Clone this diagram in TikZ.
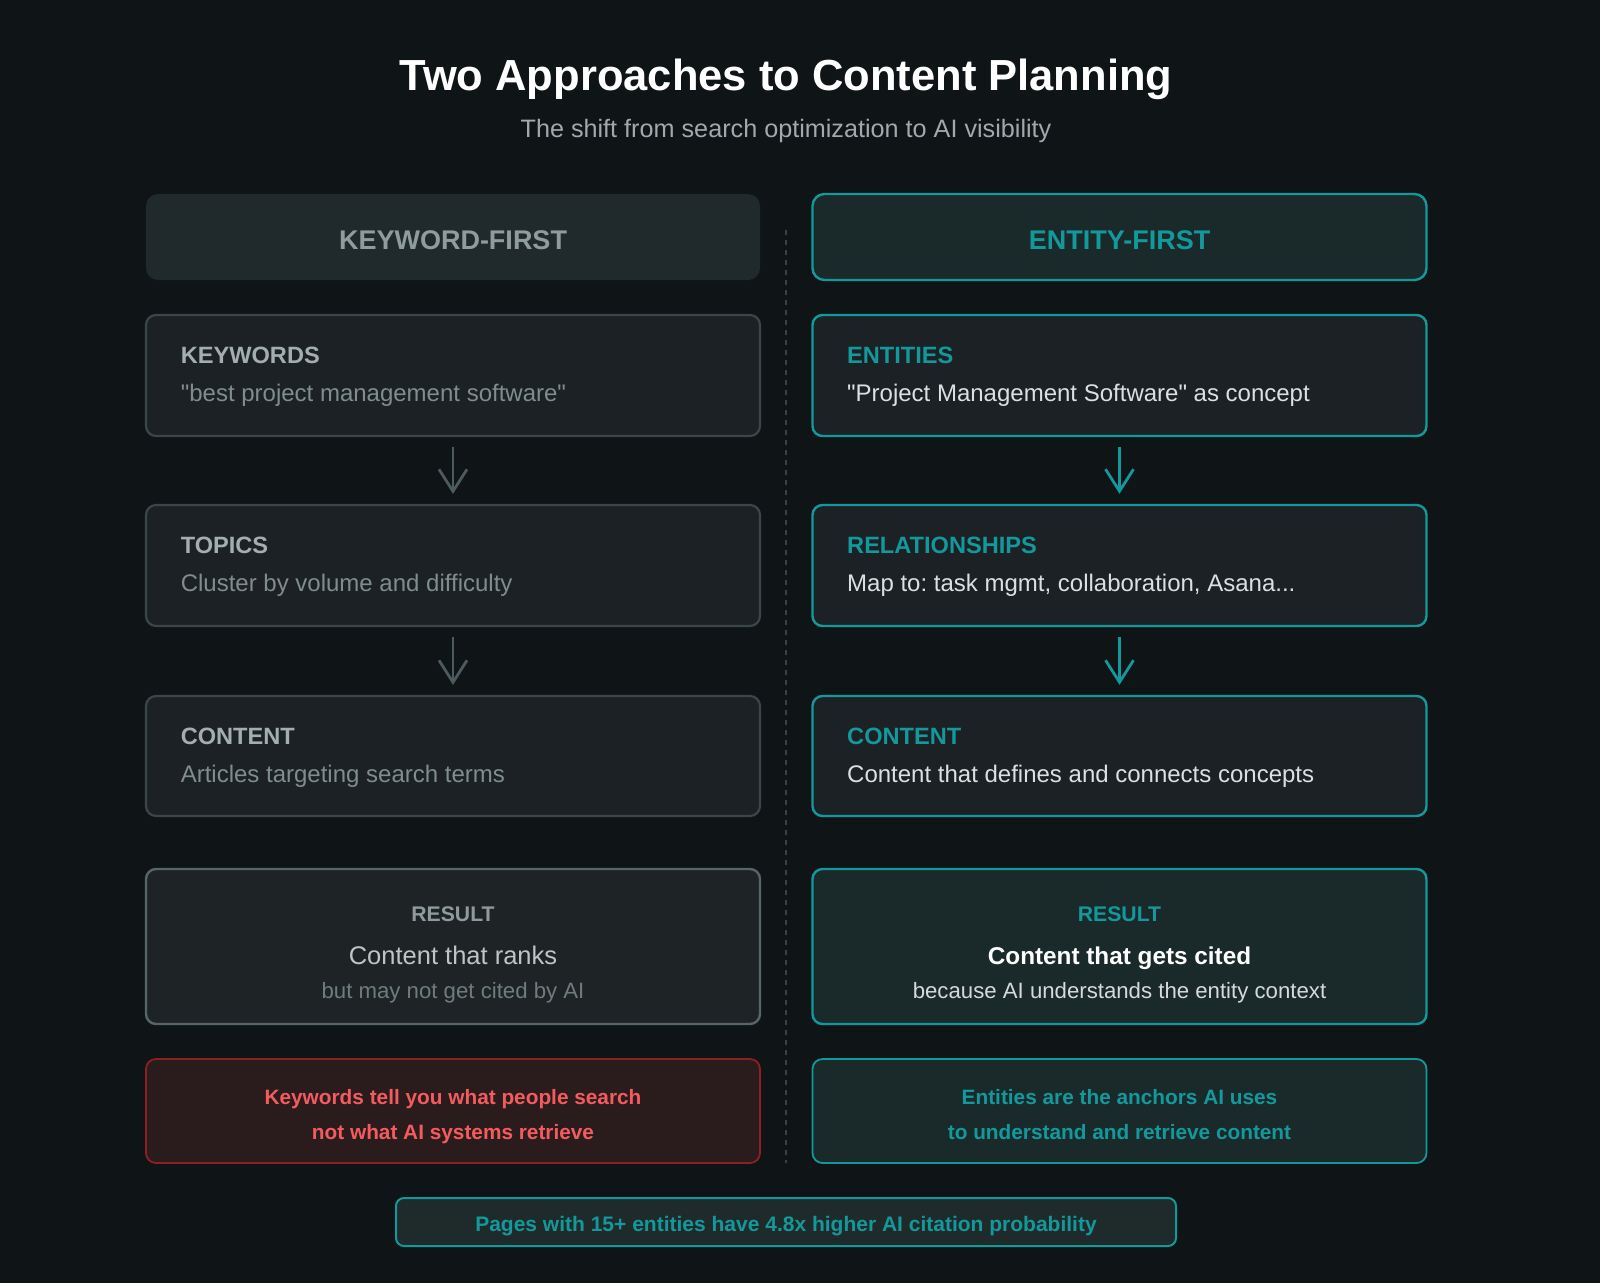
\documentclass[tikz,border=0pt]{standalone}
\usepackage{fontspec}
\setmainfont{Liberation Sans}
\newfontfamily\qfont{Liberation Sans}
\newcommand{\dq}{{\qfont\symbol{34}}}
\usetikzlibrary{arrows.meta}
\definecolor{bg}{HTML}{0F1416}
\definecolor{stepfill}{HTML}{1C2125}
\definecolor{hdrLfill}{HTML}{20292B}
\definecolor{tealfill}{HTML}{1A2A2B}
\definecolor{footfill}{HTML}{1F2A2B}
\definecolor{teal}{HTML}{13999B}
\definecolor{grayb}{HTML}{3B4649}
\definecolor{resLb}{HTML}{56656A}
\definecolor{resLfill}{HTML}{1E2326}
\definecolor{redfill}{HTML}{2A1B1C}
\definecolor{redb}{HTML}{8E1F22}
\definecolor{redtxt}{HTML}{F45B5F}
\definecolor{divc}{HTML}{3A4245}
\definecolor{arrgray}{HTML}{4C5B5F}
\definecolor{hdrLtxt}{HTML}{8E9C9E}
\definecolor{stepLttl}{HTML}{A3AEB0}
\definecolor{stepLbody}{HTML}{7F8D8E}
\definecolor{resLttl}{HTML}{8E9A9B}
\definecolor{resLmain}{HTML}{BCC6C6}
\definecolor{resLsub}{HTML}{6F7C7E}
\definecolor{rbody}{HTML}{DCE0E0}
\definecolor{resRsub}{HTML}{D6DADA}
\definecolor{subt}{HTML}{A0AAAD}
\newcommand{\fs}[1]{\fontsize{#1}{#1}\selectfont}
\frenchspacing
\begin{document}
\begin{tikzpicture}[x=1pt,y=-1pt,
  box/.style={rectangle, rounded corners=10pt, inner sep=0pt, minimum width=614pt},
  hdrL/.style={box, rounded corners=12pt, fill=hdrLfill, minimum height=86pt},
  hdrR/.style={box, rounded corners=12pt, fill=tealfill, draw=teal, line width=2.4pt, minimum height=86pt},
  stepL/.style={box, fill=stepfill, draw=grayb, line width=2.2pt},
  stepR/.style={box, fill=stepfill, draw=teal, line width=2.4pt},
  resL/.style={box, fill=resLfill, draw=resLb, line width=2.4pt, minimum height=155pt},
  resR/.style={box, fill=tealfill, draw=teal, line width=2.4pt, minimum height=155pt},
  noteL/.style={box, fill=redfill, draw=redb, line width=1.8pt, minimum height=104pt},
  noteR/.style={box, fill=tealfill, draw=teal, line width=1.8pt, minimum height=104pt},
  foot/.style={rectangle, rounded corners=8pt, inner sep=0pt, fill=footfill, draw=teal, line width=2pt, minimum width=780pt, minimum height=48pt},
  txt/.style={inner sep=0pt, anchor=base},
  ltxt/.style={inner sep=0pt, anchor=base west},
  hdrtxt/.style={txt, font=\fs{27}\bfseries},
  ttl/.style={ltxt, font=\fs{23.6}\bfseries},
  body/.style={ltxt, font=\fs{24}},
  arr/.style={line width=2.8pt, shorten <=10pt, shorten >=10pt,
    -{Straight Barb[length=22pt,width=28pt,line width=2.8pt]}},
]
\fill[bg] (0,0) rectangle (1600,1283);
\useasboundingbox (0,0) rectangle (1600,1283);

% title
\node[txt, text=white, font=\fs{43.5}\bfseries] (title) at (786,90) {Two Approaches to Content Planning};
\node[txt, text=subt, font=\fs{25.2}] (subtitle) at (786,137) {The shift from search optimization to AI visibility};

% divider
\coordinate (dtop) at (786,230);
\coordinate (dbot) at (786,1163);
\draw[divc, line width=1.2pt, dash pattern=on 5pt off 5pt] (dtop) -- (dbot);

% headers
\node[hdrL] (hL) at (453,237) {};
\node[hdrR] (hR) at (1119.5,237) {};
\node[hdrtxt, text=hdrLtxt] (hLt) at (453,249) {KEYWORD-FIRST};
\node[hdrtxt, text=teal] (hRt) at (1119.5,249) {ENTITY-FIRST};

% left steps
\node[stepL, minimum height=121pt] (k1) at (453,375.5) {};
\node[stepL, minimum height=121pt] (k2) at (453,565.5) {};
\node[stepL, minimum height=120pt] (k3) at (453,756) {};
\node[ttl, text=stepLttl] (k1t) at (180.6,363) {KEYWORDS};
\node[body, text=stepLbody] (k1b) at (180.6,401) {\dq best project management software\dq};
\node[ttl, text=stepLttl] (k2t) at (180.6,553) {TOPICS};
\node[body, text=stepLbody] (k2b) at (180.6,591) {Cluster by volume and difficulty};
\node[ttl, text=stepLttl] (k3t) at (180.6,744) {CONTENT};
\node[body, text=stepLbody] (k3b) at (180.6,782) {Articles targeting search terms};

% right steps
\node[stepR, minimum height=121pt] (e1) at (1119.5,375.5) {};
\node[stepR, minimum height=121pt] (e2) at (1119.5,565.5) {};
\node[stepR, minimum height=120pt] (e3) at (1119.5,756) {};
\node[ttl, text=teal] (e1t) at (847,363) {ENTITIES};
\node[body, text=rbody] (e1b) at (847,401) {\dq Project Management Software\dq{} as concept};
\node[ttl, text=teal] (e2t) at (847,553) {RELATIONSHIPS};
\node[body, text=rbody] (e2b) at (847,591) {Map to: task mgmt, collaboration, Asana...};
\node[ttl, text=teal] (e3t) at (847,744) {CONTENT};
\node[body, text=rbody] (e3b) at (847,782) {Content that defines and connects concepts};

% arrows
\draw[arr, arrgray] (k1.south) -- (k2.north);
\draw[arr, arrgray] (k2.south) -- (k3.north);
\draw[arr, teal] (e1.south) -- (e2.north);
\draw[arr, teal] (e2.south) -- (e3.north);

% results
\node[resL] (rL) at (453,946.5) {};
\node[resR] (rR) at (1119.5,946.5) {};
\node[txt, text=resLttl, font=\fs{21.2}\bfseries] (rLt) at (453,921) {RESULT};
\node[txt, text=resLmain, font=\fs{25.5}] (rLm) at (453,964) {Content that ranks};
\node[txt, text=resLsub, font=\fs{22.2}] (rLs) at (453,998) {but may not get cited by AI};
\node[txt, text=teal, font=\fs{21.2}\bfseries] (rRt) at (1119.5,921) {RESULT};
\node[txt, text=white, font=\fs{24.3}\bfseries] (rRm) at (1119.5,964) {Content that gets cited};
\node[txt, text=resRsub, font=\fs{22.2}] (rRs) at (1119.5,998) {because AI understands the entity context};

% notes
\node[noteL] (nL) at (453,1111) {};
\node[noteR] (nR) at (1119.5,1111) {};
\node[txt, text=redtxt, font=\fs{20.8}\bfseries] (nL1) at (453,1104.5) {Keywords tell you what people search};
\node[txt, text=redtxt, font=\fs{20.8}\bfseries] (nL2) at (453,1139.5) {not what AI systems retrieve};
\node[txt, text=teal, font=\fs{20.8}\bfseries] (nR1) at (1119.5,1104.5) {Entities are the anchors AI uses};
\node[txt, text=teal, font=\fs{20.8}\bfseries] (nR2) at (1119.5,1139.5) {to understand and retrieve content};

% footer
\node[foot] (ft) at (786,1222) {};
\node[txt, text=teal, font=\fs{21}\bfseries] (ftt) at (786,1231) {Pages with 15+ entities have 4.8x higher AI citation probability};
\end{tikzpicture}
\end{document}
